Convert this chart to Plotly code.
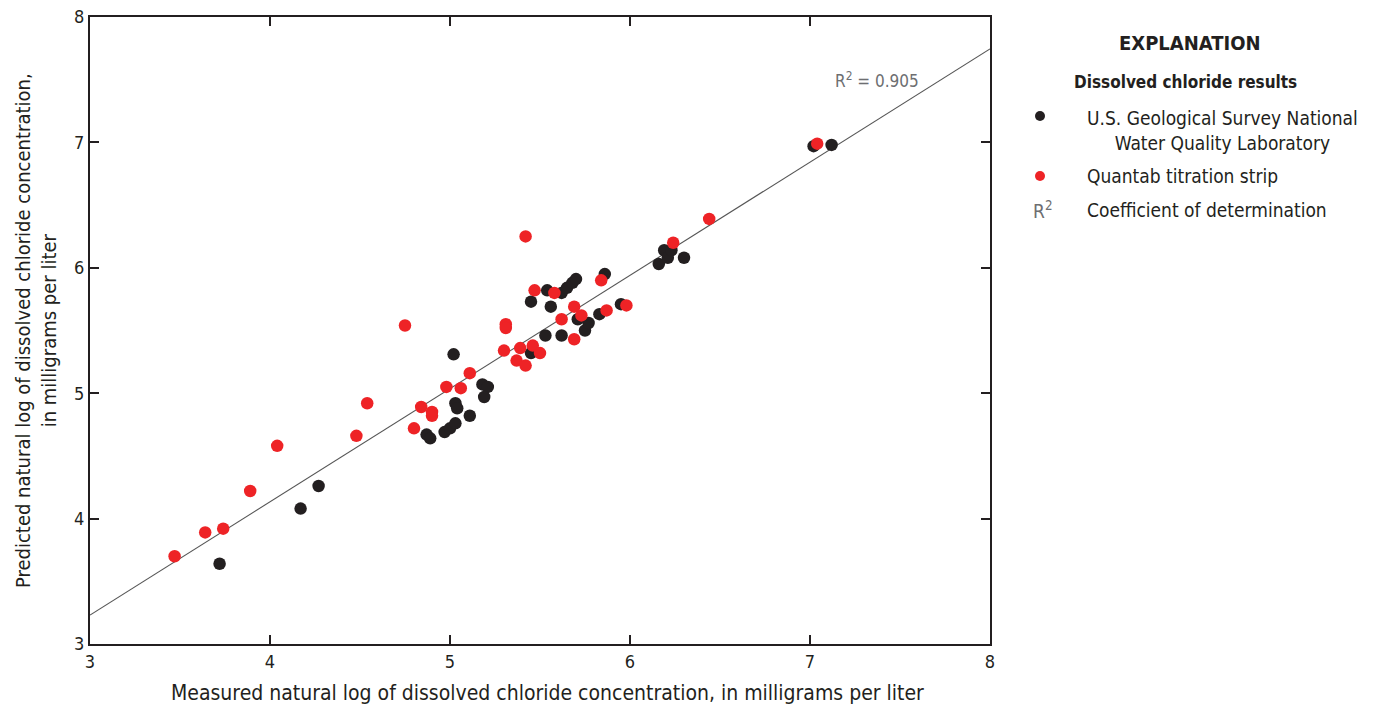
import plotly.graph_objects as go

# ---- Data ----
nwql_x = [3.72, 4.17, 4.27, 4.87, 4.89, 4.97, 5.00, 5.02, 5.03, 5.03, 5.04, 5.11,
          5.18, 5.21, 5.19, 5.45, 5.45, 5.53, 5.54, 5.56, 5.62, 5.62, 5.65, 5.68,
          5.70, 5.71, 5.75, 5.77, 5.86, 5.83, 5.95, 6.16, 6.19, 6.21, 6.23, 6.30,
          7.02, 7.12]
nwql_y = [3.64, 4.08, 4.26, 4.67, 4.64, 4.69, 4.72, 5.31, 4.76, 4.92, 4.88, 4.82,
          5.07, 5.05, 4.97, 5.73, 5.32, 5.46, 5.82, 5.69, 5.46, 5.80, 5.84, 5.88,
          5.91, 5.59, 5.50, 5.56, 5.95, 5.63, 5.71, 6.03, 6.14, 6.08, 6.14, 6.08,
          6.97, 6.98]

quantab_x = [3.47, 3.64, 3.74, 3.89, 4.04, 4.48, 4.54, 4.75, 4.80, 4.84, 4.90, 4.90,
             4.98, 5.06, 5.11, 5.31, 5.31, 5.30, 5.37, 5.39, 5.42, 5.46, 5.50, 5.42,
             5.47, 5.58, 5.62, 5.69, 5.73, 5.69, 5.84, 5.87, 5.98, 6.24, 6.44, 7.04]
quantab_y = [3.70, 3.89, 3.92, 4.22, 4.58, 4.66, 4.92, 5.54, 4.72, 4.89, 4.85, 4.82,
             5.05, 5.04, 5.16, 5.55, 5.52, 5.34, 5.26, 5.36, 5.22, 5.38, 5.32, 6.25,
             5.82, 5.80, 5.59, 5.69, 5.62, 5.43, 5.90, 5.66, 5.70, 6.20, 6.39, 6.99]

fit_slope = 0.903
fit_intercept = 0.522
fit_x = [3, 8]
r_squared = 0.905

x_ticks = [3, 4, 5, 6, 7, 8]
y_ticks = [3, 4, 5, 6, 7, 8]

# ---- Styling ----
RED = "#EE2326"
BLACK = "#231F20"
GRAY = "#6D6E71"
FONT = "DejaVu Sans Condensed, Liberation Sans Narrow, sans-serif"

fit_y = [fit_slope * v + fit_intercept for v in fit_x]

fig = go.Figure()
fig.add_trace(go.Scatter(x=fit_x, y=fit_y, mode="lines",
                         line=dict(color="#555555", width=1.1),
                         hoverinfo="skip", showlegend=False))
fig.add_trace(go.Scatter(x=nwql_x, y=nwql_y, mode="markers",
                         marker=dict(color=BLACK, size=12.5, line=dict(width=0)),
                         name="U.S. Geological Survey National Water Quality Laboratory",
                         showlegend=False))
fig.add_trace(go.Scatter(x=quantab_x, y=quantab_y, mode="markers",
                         marker=dict(color=RED, size=12.5, line=dict(width=0)),
                         name="Quantab titration strip", showlegend=False))

# The page body has an 8px margin, so the figure is offset by 8px.
W, H = 1381, 715
OFF = 8
# plot area in screen pixels: x 90..990, y 17..644
PL, PR, PT, PB = 90, 990, 17, 644
def px(x):
    return (x - PL) / (PR - PL)
def py(y):
    return (PB - y) / (PB - PT)

annotations = [
    dict(x=7.13, y=7.50, xref="x", yref="y", xanchor="left", yanchor="middle",
         text=f"R<sup>2</sup> = {r_squared}", showarrow=False,
         font=dict(family=FONT, size=17, color=GRAY)),
    dict(x=px(1190), y=py(43), xref="paper", yref="paper", xanchor="center",
         yanchor="middle", text="<b>EXPLANATION</b>", showarrow=False,
         font=dict(family=FONT, size=20, color=BLACK)),
    dict(x=px(1185), y=py(82), xref="paper", yref="paper", xanchor="center",
         yanchor="middle", text="<b>Dissolved chloride results</b>", showarrow=False,
         font=dict(family=FONT, size=17, color=BLACK)),
    dict(x=px(1085), y=py(130), xref="paper", yref="paper", xanchor="left",
         yanchor="middle", align="center",
         text="U.S. Geological Survey National<br>Water Quality Laboratory",
         showarrow=False, font=dict(family=FONT, size=19, color=BLACK)),
    dict(x=px(1085), y=py(176), xref="paper", yref="paper", xanchor="left",
         yanchor="middle", text="Quantab titration strip", showarrow=False,
         font=dict(family=FONT, size=19, color=BLACK)),
    dict(x=px(1031), y=py(210), xref="paper", yref="paper", xanchor="left",
         yanchor="middle", text="R<sup>2</sup>", showarrow=False,
         font=dict(family=FONT, size=19, color=GRAY)),
    dict(x=px(1085), y=py(210), xref="paper", yref="paper", xanchor="left",
         yanchor="middle", text="Coefficient of determination", showarrow=False,
         font=dict(family=FONT, size=19, color=BLACK)),
    # axis titles
    dict(x=px(547), y=py(693), xref="paper", yref="paper", xanchor="center",
         yanchor="middle",
         text="Measured natural log of dissolved chloride concentration, in milligrams per liter",
         showarrow=False, font=dict(family=FONT, size=21, color=BLACK)),
    dict(x=px(36), y=py(331), xref="paper", yref="paper", xanchor="center",
         yanchor="middle", textangle=-90,
         text="Predicted natural log of dissolved chloride concentration,<br>in milligrams per liter",
         showarrow=False, font=dict(family=FONT, size=20, color=BLACK)),
]

shapes = []
for (cx, cy, col) in [(1040, 116, BLACK), (1040, 176, RED)]:
    shapes.append(dict(type="circle", xref="paper", yref="paper",
                       x0=px(cx - 5), x1=px(cx + 5), y0=py(cy + 5), y1=py(cy - 5),
                       fillcolor=col, line=dict(width=0)))

axis_common = dict(showgrid=False, zeroline=False, showline=True, linecolor=BLACK,
                   linewidth=2, mirror="ticks", ticks="inside", ticklen=9,
                   tickwidth=1.5, tickcolor=BLACK, automargin=False,
                   ticklabeloverflow="allow",
                   tickfont=dict(family=FONT, size=18, color=BLACK))

fig.update_layout(
    width=W, height=H,
    margin=dict(l=PL - OFF, r=W - PR + OFF, t=PT - OFF, b=H - PB + OFF, autoexpand=False),
    plot_bgcolor="white", paper_bgcolor="white",
    xaxis=dict(range=[3, 8], tickvals=x_ticks, ticktext=[str(t) for t in x_ticks],
               **axis_common),
    yaxis=dict(range=[3, 8], tickvals=y_ticks, ticktext=[str(t) for t in y_ticks],
               **axis_common),
    annotations=annotations,
    shapes=shapes,
    showlegend=False,
)

fig.write_html("out.html")
